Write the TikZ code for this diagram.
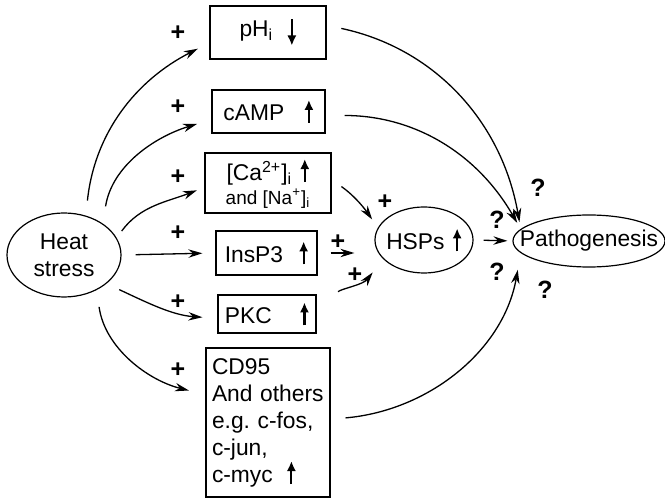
\documentclass[tikz,border=0pt]{standalone}
\usepackage{fontspec}
\setmainfont{Liberation Sans}
\usetikzlibrary{shapes.geometric,arrows.meta}

% small up and down arrows inside the boxes
\newcommand{\uparr}{\tikz[baseline=0pt]\draw[-{Latex[length=5pt,width=4.6pt]},line width=1.1pt] (0,-1pt) -- (0,10.5pt);}
\newcommand{\dnarr}{\tikz[baseline=0pt]\draw[-{Latex[length=5pt,width=4.6pt]},line width=1.1pt] (0,8.5pt) -- (0,-4.5pt);}

\begin{document}
\begin{tikzpicture}[x=0.5pt,y=0.5pt,
  font=\fontsize{11.4pt}{13.5pt}\selectfont,
  box/.style={draw,line width=0.6pt,inner sep=0pt,align=center},
  bubble/.style={draw,ellipse,line width=0.6pt,inner sep=0pt},
  link/.style={line width=0.65pt,-{Stealth[length=7pt,width=4.2pt]}},
  sign/.style={font=\fontsize{12.5pt}{13.5pt}\selectfont\bfseries,inner sep=0pt}]
\useasboundingbox (0,0) rectangle (665,498);

% Draw the ellipses
\node[bubble,minimum width=57pt,minimum height=42pt,align=center] (heat) at (64,243) {Heat\\stress};
\node[bubble,minimum width=49pt,minimum height=33pt,label={center:HSPs\hspace{4pt}\uparr}] (hsps) at (424,258) {};
\node[bubble,minimum width=76pt,minimum height=26pt,label={center:Pathogenesis}] (patho) at (589,257) {};

% Draw the boxes
\node[box,minimum width=58pt,minimum height=26.5pt] (ph) at (268,465.5) {pH\textsubscript{i}\hspace{7pt}\dnarr};
\node[box,minimum width=56.5pt,minimum height=21.5pt] (camp) at (268.5,386.5) {cAMP\hspace{10pt}\uparr};
\node[box,minimum width=63pt,minimum height=30pt] (ca) at (268,315) {[Ca\textsuperscript{2+}]\textsubscript{i}\hspace{4pt}\uparr\\[-1.5pt]{\fontsize{9.5pt}{11pt}\selectfont and [Na\textsuperscript{+}]\textsubscript{i}}};
\node[box,minimum width=50.5pt,minimum height=22pt] (insp) at (266.5,245) {InsP3\hspace{8pt}\uparr};
\node[box,minimum width=49pt,minimum height=19pt] (pkc) at (267,184) {PKC\hspace{14pt}\uparr};
\node[box,minimum width=62pt,minimum height=74.5pt,text width=56pt,inner xsep=3pt,align=left] (cd) at (268,75.5) {CD95\\And others\\e.g.\ c-fos,\\c-jun,\\c-myc\hspace{7pt}\uparr};

% Heat stress to the boxes
\draw[link,shorten <=7.5pt,shorten >=6.5pt] (heat.61) to[out=84,in=207] (ph.190);
\draw[link,shorten <=8.7pt,shorten >=7.5pt] (heat.39) to[out=81,in=197] (camp.188);
\draw[link,shorten <=4.2pt,shorten >=4pt] (heat.18) to[out=54,in=201] (ca.184);
\draw[link,shorten <=7pt,shorten >=6.5pt] (heat.east) -- (insp.west);
\draw[link,shorten <=7pt,shorten >=7.5pt] (heat.-34) to[out=-25,in=176] (pkc.185);
\draw[link,shorten <=8.5pt,shorten >=8.5pt] (heat.-47) to[out=-82,in=166] (cd.156);

% Boxes to HSPs and pathogenesis
\draw[link,shorten <=7.5pt,shorten >=3.5pt] (ph.7) to[out=-12,in=100] (patho.170);
\draw[link,shorten <=9.5pt,shorten >=3.5pt] (camp.-4) to[out=0,in=120] (patho.170);
\draw[link,shorten <=6pt,shorten >=5pt] (ca.3) to[out=-35,in=125] (hsps.165);
\draw[link,shorten <=6.5pt,shorten >=10pt] (insp.east) -- (insp.east -| hsps.west);
\draw[link,shorten <=14pt,shorten >=8.5pt] (pkc.5) to[out=40,in=232] (hsps.205);
\draw[link,shorten <=5pt,shorten >=2.5pt] (hsps.east) -- (patho.west);
\draw[link,shorten <=7.5pt,shorten >=8.5pt] (cd.3) to[out=5,in=-100] (patho.190);

% Plus signs
\node[sign] (pl1) at (178,465) {+};
\node[sign] (pl2) at (178,391) {+};
\node[sign] (pl3) at (178,321) {+};
\node[sign] (pl4) at (178,265) {+};
\node[sign] (pl5) at (178,196) {+};
\node[sign] (pl6) at (178,128) {+};
\node[sign] (pl7) at (385,296) {+};
\node[sign] (pl8) at (338,256) {+};
\node[sign] (pl9) at (355,223) {+};

% Question marks
\node[sign] (q1) at (538,310) {?};
\node[sign] (q2) at (497,278) {?};
\node[sign] (q3) at (497,226) {?};
\node[sign] (q4) at (545,208) {?};
\end{tikzpicture}
\end{document}
